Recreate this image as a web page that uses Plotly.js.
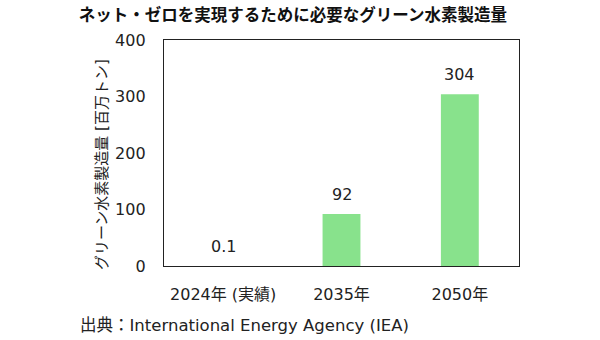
<!DOCTYPE html>
<html>
<head>
<meta charset="utf-8">
<script src="https://cdn.plot.ly/plotly-3.0.1.min.js"></script>
<style>html,body{margin:0;padding:0;background:#fff;}#chart{width:600px;height:340px;}</style>
</head>
<body>
<div id="chart"></div>
<script>
const categories = ["2024年 (実績)", "2035年", "2050年"];
const values = [0.1, 92, 304];
const valueLabels = ["0.1", "92", "304"];
const yTicks = [0, 100, 200, 300, 400];

const FONT = "DejaVu Sans, Noto Sans CJK JP, sans-serif";
const JFONT = "DejaVu Sans, Noto Sans CJK JP, sans-serif";

const trace = {
  type: "bar",
  x: categories,
  y: values,
  marker: {color: "#88E28C"},
  width: 0.32,
  hoverinfo: "none"
};

const annotations = categories.map((c, i) => ({
  x: c, y: values[i], xref: "x", yref: "y",
  text: valueLabels[i], showarrow: false,
  yanchor: "bottom", yshift: 8,
  font: {family: FONT, size: 16, color: "#222"}
}));
annotations.push({
  xref: "paper", yref: "paper", x: -0.242, y: -0.265,
  xanchor: "left", yanchor: "middle", showarrow: false,
  text: "出典：International Energy Agency (IEA)",
  font: {family: JFONT, size: 16.5, color: "#222"}
});
annotations.push({
  xref: "paper", yref: "paper", x: -0.175, y: 0.451,
  xanchor: "center", yanchor: "middle", showarrow: false, textangle: -90,
  text: "グリーン水素製造量 [百万トン]",
  font: {family: JFONT, size: 15, color: "#222"}
});

const layout = {
  width: 600, height: 340,
  margin: {l: 164, r: 81, t: 40, b: 74},
  paper_bgcolor: "#fff", plot_bgcolor: "#fff",
  showlegend: false,
  title: {
    text: "<b>ネット・ゼロを実現するために必要なグリーン水素製造量</b>",
    font: {family: JFONT, size: 16.5, color: "#111"},
    x: 0.488, xref: "container", xanchor: "center",
    y: 1 - 15/340, yref: "container", yanchor: "middle"
  },
  xaxis: {
    type: "category",
    tickfont: {family: JFONT, size: 16, color: "#222"},
    showline: true, linecolor: "#222", linewidth: 1.2, mirror: true,
    ticks: "", ticklabelstandoff: 14, showgrid: false, fixedrange: true
  },
  yaxis: {
    range: [0, 400], tickvals: yTicks,
    tickfont: {family: FONT, size: 16, color: "#222"},
    showline: true, linecolor: "#222", linewidth: 1.2, mirror: true,
    ticks: "", ticklabelstandoff: 14, showgrid: false, zeroline: false,
    fixedrange: true
  },
  annotations: annotations
};

Plotly.newPlot("chart", [trace], layout, {displayModeBar: false, staticPlot: true});
</script>
</body>
</html>
